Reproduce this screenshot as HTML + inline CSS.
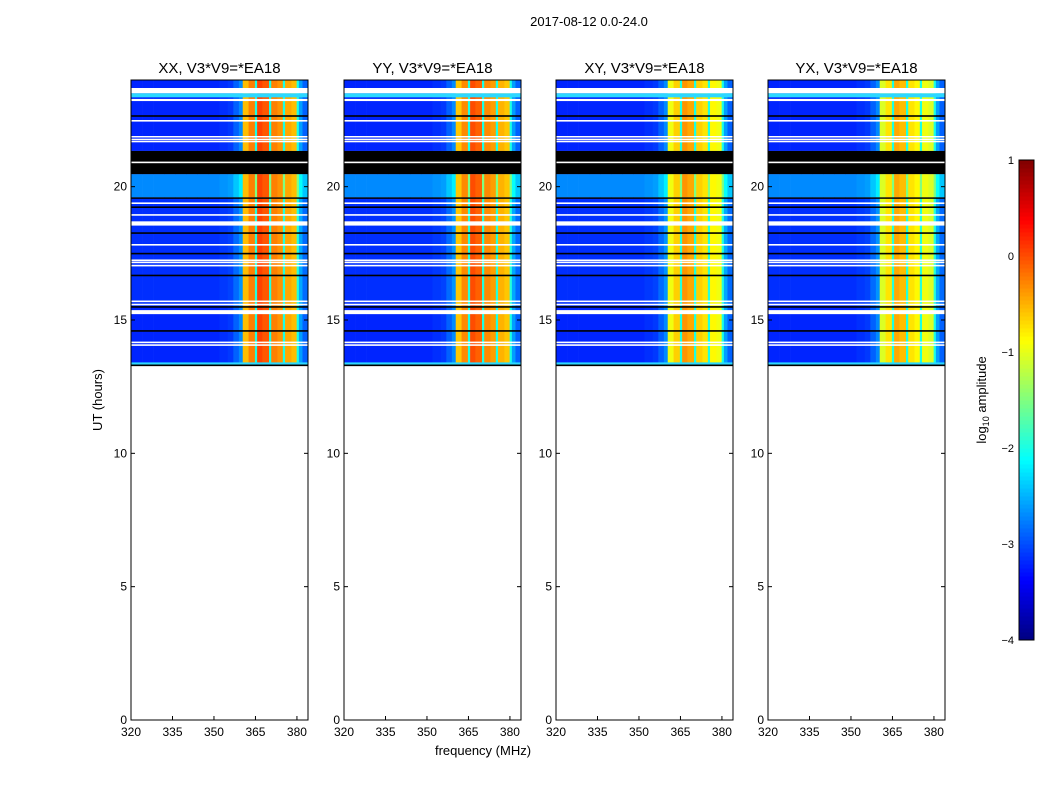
<!DOCTYPE html>
<html><head><meta charset="utf-8">
<style>
body{margin:0;background:#fff;width:1050px;height:800px;overflow:hidden;font-family:"Liberation Sans",sans-serif;}
svg text{font-family:"Liberation Sans",sans-serif;}
</style></head>
<body>
<svg id="chart" width="1050" height="800" xmlns="http://www.w3.org/2000/svg">
<text x="589" y="26" font-size="13" text-anchor="middle">2017-08-12 0.0-24.0</text>
<text x="0" y="0" font-size="13" text-anchor="middle" transform="translate(102,400) rotate(-90)">UT (hours)</text>
<text x="483" y="755" font-size="13" text-anchor="middle">frequency (MHz)</text>
<text x="0" y="0" font-size="13" text-anchor="middle" transform="translate(986,400) rotate(-90)">log<tspan font-size="9" dy="3">10</tspan><tspan dy="-3"> amplitude</tspan></text>
<g id="panels"></g>
<g id="cbar"></g>
</svg>
<script>
// ---- data ----
const panelTitles = ["XX, V3*V9=*EA18","YY, V3*V9=*EA18","XY, V3*V9=*EA18","YX, V3*V9=*EA18"];
const panelOffsets = [0.35, 0.3, -0.05, -0.15];
// channel start frequencies (MHz) and log10 amplitude level per channel
const chanFreqs = [320,324,328,332,336,340,344,348,352,355,357,359,360.4,362.5,364.8,365.6,367.5,369.9,370.7,373,374.9,375.7,378,379.9,380.7,382];
const chanLevels = [-3.2,-3.2,-3.2,-3.2,-3.2,-3.2,-3.2,-3.2,-3.15,-3.1,-2.9,-2.7,-0.9,-0.6,-2.0,-0.3,-0.4,-2.0,-0.6,-0.7,-2.0,-0.8,-0.9,-2.0,-2.6,-2.9];
// data time bands: [startHour, endHour, level offset]
const dataBands = [[13.3,15.5,0],[15.5,19.6,0.05],[19.6,20.47,0.5],[20.47,21.34,0],[21.34,24,0]];
// flagged/feature rows: [startHour, endHour, kind]
const flagRows = [
 [23.5,23.7,"white"],[23.35,23.5,"cyan"],[23.21,23.29,"white"],[22.62,22.68,"black"],[22.44,22.5,"white"],
 [21.85,21.9,"white"],[21.76,21.8,"white"],[21.68,21.72,"white"],
 [20.47,21.34,"black"],[20.88,20.94,"white"],
 [19.55,19.6,"black"],[19.35,19.41,"white"],[19.2,19.26,"black"],[18.91,18.97,"white"],[18.54,18.7,"white"],
 [18.23,18.29,"black"],[17.79,17.85,"white"],[17.46,17.52,"black"],[17.21,17.27,"white"],[17.13,17.19,"white"],
 [17.01,17.07,"white"],[16.64,16.7,"black"],[15.67,15.73,"white"],[15.55,15.61,"white"],[15.46,15.52,"black"],
 [15.22,15.37,"white"],[14.56,14.62,"black"],[14.13,14.19,"white"],[14.03,14.09,"white"],[13.32,13.41,"cyan"],[13.27,13.33,"black"]
];
const yTicks = [0,5,10,15,20];
const xTicks = [320,335,350,365,380];
const cbTicks = [-4,-3,-2,-1,0,1];

// ---- layout ----
const panelX = [131,344,556,768], PW = 177, PT = 80, PB = 720;
const fMin = 320, fMax = 384, tMin = 0, tMax = 24;
const NS = "http://www.w3.org/2000/svg";
function xs(px0,f){return px0 + (f-fMin)/(fMax-fMin)*PW;}
function ys(t){return PB - (t-tMin)/(tMax-tMin)*(PB-PT);}
function jet(v){ // v in -4..1
  let x = Math.max(0,Math.min(1,(v+4)/5));
  const c=t=>Math.round(255*Math.max(0,Math.min(1,1.5-Math.abs(4*x-t))));
  return `rgb(${c(3)},${c(2)},${c(1)})`;
}
function mk(tag,attrs,parent){const e=document.createElementNS(NS,tag);for(const k in attrs)e.setAttribute(k,attrs[k]);parent.appendChild(e);return e;}
const panels = document.getElementById('panels');
panelX.forEach((x0,p)=>{
  const g = mk('g',{},panels);
  
  
  dataBands.forEach(b=>{
    chanFreqs.forEach((f,i)=>{
      const f2 = i<chanFreqs.length-1?chanFreqs[i+1]:fMax;
      const hot = chanLevels[i]>-1.5;
      const v = chanLevels[i]+(hot?panelOffsets[p]:b[2]);
      const r = mk('rect',{x:xs(x0,f),y:ys(b[1]),width:xs(x0,f2)-xs(x0,f)+0.3,height:ys(b[0])-ys(b[1]),fill:jet(v)},g);
      
      
    });
  });
  flagRows.forEach(fr=>{
    const r = mk('rect',{x:x0,y:ys(fr[1]),width:PW,height:Math.max(1.5,ys(fr[0])-ys(fr[1])),fill:fr[2]==="white"?"#fff":fr[2]==="black"?"#000":"#2cd8ff"},g);
    
    
  });
  const fr = mk('rect',{x:x0,y:PT,width:PW,height:PB-PT,fill:'none',stroke:'#000','stroke-width':1},g);
  
  
  const t = mk('text',{x:x0+PW/2,y:73,'font-size':15,'text-anchor':'middle'},g);
  t.textContent = panelTitles[p];
  
  
  yTicks.forEach(v=>{
    mk('line',{x1:x0,x2:x0+4,y1:ys(v),y2:ys(v),stroke:'#000'},g);
    mk('line',{x1:x0+PW-4,x2:x0+PW,y1:ys(v),y2:ys(v),stroke:'#000'},g);
    const l = mk('text',{x:x0-4,y:ys(v)+4,'font-size':12,'text-anchor':'end'},g);
    l.textContent = v;
    
    
  });
  xTicks.forEach(v=>{
    mk('line',{x1:xs(x0,v),x2:xs(x0,v),y1:PB,y2:PB-4,stroke:'#000'},g);
    const l = mk('text',{x:xs(x0,v),y:PB+16,'font-size':12,'text-anchor':'middle'},g);
    l.textContent = v;
    
    
  });
});
// colorbar
const cb = document.getElementById('cbar');


const CX=1019,CW=15,CT=160,CB=640;
for(let i=0;i<120;i++){
  const v0=-4+5*i/120, v1=-4+5*(i+1)/120;
  const cy=v=>CB-(v+4)/5*(CB-CT);
  mk('rect',{x:CX,y:cy(v1),width:CW,height:cy(v0)-cy(v1)+0.5,fill:jet((v0+v1)/2)},cb);
}
mk('rect',{x:CX,y:CT,width:CW,height:CB-CT,fill:'none',stroke:'#000'},cb);
cbTicks.forEach(v=>{
  const y=CB-(v+4)/5*(CB-CT);
  const l=mk('text',{x:CX-5,y:y+4,'font-size':11,'text-anchor':'end'},cb);
  l.textContent = v<0?'\u2212'+(-v):v;
  
  
});
</script>
</body></html>
